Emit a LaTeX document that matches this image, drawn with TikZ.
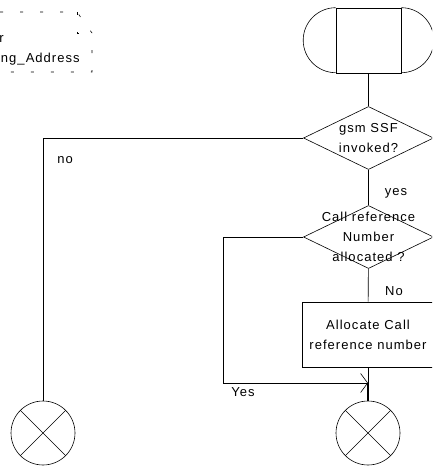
\documentclass[tikz,border=0pt]{standalone}
\usepackage{fontspec}
\newfontfamily\sdlfont[LetterSpace=8]{Liberation Sans}
\usetikzlibrary{shapes.geometric,arrows.meta}

\begin{document}
\begin{tikzpicture}[x=1pt,y=-1pt,line width=0.6pt,
  every node/.style={font=\sdlfont\fontsize{13}{20}\selectfont},
  lbl/.style={align=center,inner sep=0pt},
  terminal/.style={draw,minimum width=65pt,minimum height=65pt,inner sep=0pt},
  decision/.style={draw,diamond,minimum width=130pt,minimum height=63pt,inner sep=0pt},
  task/.style={draw,minimum width=132pt,minimum height=65pt,inner sep=0pt,align=center},
  xcircle/.style={draw,circle,minimum size=64pt,inner sep=0pt},
  barb/.style={-{Straight Barb[length=7pt,width=19pt]}}]
  \useasboundingbox (0,0) rectangle (432,468);
  \clip (0,0) rectangle (432,468);

  % comment symbol, cut at the left edge
  \draw[dash pattern=on 3pt off 17pt] (-20,12) -- (77,12) -- (92,33) -- (92,72) -- (-20,72);
  \draw[dash pattern=on 3pt off 17pt] (77,12) -- (77,33) -- (92,33);
  \node[anchor=base east,inner sep=0pt] (cmt1) at (4,43) {r};
  \node[anchor=base east,inner sep=0pt] (cmt2) at (80,63) {ng\_Address};

  % start symbol
  \node[terminal] (start) at (368.5,40.5) {};
  \draw (start.north west) arc[start angle=90,end angle=270,radius=32.5pt];
  \draw (start.north east) arc[start angle=90,end angle=-90,radius=32.5pt];

  \node[decision,label={[lbl]center:{gsm SSF\\invoked?}}] (ssf) at (368.5,138) {};
  \node[decision,label={[lbl]center:{Call reference\\Number\\allocated ?}}] (crn) at (368.5,237) {};
  \node[task] (alloc) at (368,334.5) {Allocate Call\\reference number};
  \node[xcircle] (stop1) at (43,433) {};
  \node[xcircle] (stop2) at (368,433) {};
  \draw (stop1.north west) -- (stop1.south east) (stop1.north east) -- (stop1.south west);
  \draw (stop2.north west) -- (stop2.south east) (stop2.north east) -- (stop2.south west);
  \coordinate (join) at (368,383);

  \draw (start) -- (ssf);
  \draw (ssf.west) -| (stop1.north);
  \draw (ssf) -- (crn);
  \draw (crn) -- (alloc);
  \draw (alloc) -- (join);
  \draw[line width=1.4pt] (join) -- (stop2.north);
  \draw[barb] (crn.west) -- ++(-80,0) |- (join);

  \node[lbl] (no) at (65,160) {no};
  \node[lbl] (yes) at (396,193) {yes};
  \node[lbl] (No) at (394,291) {No};
  \node[lbl] (Yes) at (243,392) {Yes};
\end{tikzpicture}
\end{document}
